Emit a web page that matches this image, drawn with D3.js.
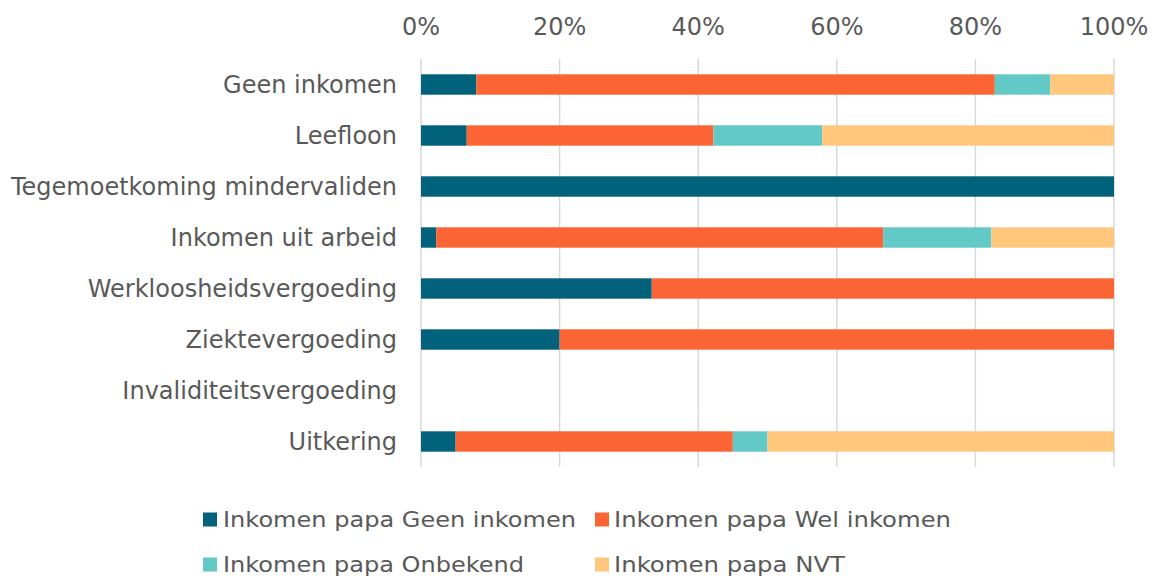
<!DOCTYPE html>
<html>
<head>
<meta charset="utf-8">
<script src="https://cdn.jsdelivr.net/npm/d3@7"></script>
<style>
  body { margin: 0; background: #fff; }
  text { font-family: "DejaVu Sans", Verdana, sans-serif; fill: #595959; }
</style>
</head>
<body>
<svg id="chart" width="1157" height="579"></svg>
<script>
const categories = [
    "Geen inkomen",
    "Leefloon",
    "Tegemoetkoming mindervaliden",
    "Inkomen uit arbeid",
    "Werkloosheidsvergoeding",
    "Ziektevergoeding",
    "Invaliditeitsvergoeding",
    "Uitkering"
];

const seriesNames = [
    "Inkomen papa Geen inkomen",
    "Inkomen papa Wel inkomen",
    "Inkomen papa Onbekend",
    "Inkomen papa NVT"
];

// percentages per category, same order as categories
const geenInkomen = [8.0, 6.6, 100, 2.2, 33.3, 20, 0, 5];
const welInkomen  = [74.8, 35.6, 0, 64.5, 66.7, 80, 0, 40];
const onbekend    = [8.0, 15.7, 0, 15.6, 0, 0, 0, 5];
const nvt         = [9.2, 42.1, 0, 17.7, 0, 0, 0, 50];

const tickValues = [0, 20, 40, 60, 80, 100];
const colors = ["#02627b", "#fb6434", "#62c9c7", "#ffc77c"];

const svg = d3.select("#chart");

const rows = categories.map((c, i) => ({
    cat: c,
    s0: geenInkomen[i],
    s1: welInkomen[i],
    s2: onbekend[i],
    s3: nvt[i]
}));

const stack = d3.stack().keys(["s0", "s1", "s2", "s3"]);
const layers = stack(rows);

const x = d3.scaleLinear().domain([0, 100]).range([421, 1114]);
const y = d3.scaleBand().domain(categories).range([59, 467]).paddingInner(0.6).paddingOuter(0.3);

// gridlines
svg.append("g")
    .selectAll("line")
    .data(tickValues)
    .enter().append("line")
    .attr("x1", d => x(d))
    .attr("x2", d => x(d))
    .attr("y1", 59)
    .attr("y2", 467)
    .attr("stroke", "#d9d9d9")
    .attr("stroke-width", 1.5);

// tick labels on top
svg.append("g")
    .selectAll("text")
    .data(tickValues)
    .enter().append("text")
    .attr("x", d => x(d))
    .attr("y", 35)
    .attr("text-anchor", "middle")
    .style("font-size", "24px")
    .text(d => d + "%");

// bars
svg.append("g")
    .selectAll("g")
    .data(layers)
    .enter().append("g")
    .attr("fill", (d, i) => colors[i])
    .selectAll("rect")
    .data(d => d)
    .enter().append("rect")
    .attr("x", d => x(d[0]))
    .attr("y", d => y(d.data.cat))
    .attr("width", d => Math.max(0, x(d[1]) - x(d[0])))
    .attr("height", y.bandwidth());

// category labels
svg.append("g")
    .selectAll("text")
    .data(categories)
    .enter().append("text")
    .attr("x", 397)
    .attr("y", d => y(d) + y.bandwidth() / 2)
    .attr("dy", "0.36em")
    .attr("text-anchor", "end")
    .style("font-size", "24px")
    .text(d => d);

// legend
const legendPos = [
    {sx: 203, tx: 223, y: 527, w: 353},
    {sx: 595, tx: 614, y: 527, w: 337},
    {sx: 203, tx: 223, y: 572, w: 301},
    {sx: 595, tx: 614, y: 572, w: 231}
];

const legend = svg.append("g")
    .selectAll("g")
    .data(seriesNames)
    .enter().append("g");

legend.append("rect")
    .attr("x", (d, i) => legendPos[i].sx)
    .attr("y", (d, i) => legendPos[i].y - 14.5)
    .attr("width", 14)
    .attr("height", 14)
    .attr("fill", (d, i) => colors[i]);

legend.append("text")
    .attr("x", (d, i) => legendPos[i].tx)
    .attr("y", (d, i) => legendPos[i].y)
    .attr("textLength", (d, i) => legendPos[i].w)
    .attr("lengthAdjust", "spacingAndGlyphs")
    .style("font-size", "22px")
    .text(d => d);
</script>
</body>
</html>
